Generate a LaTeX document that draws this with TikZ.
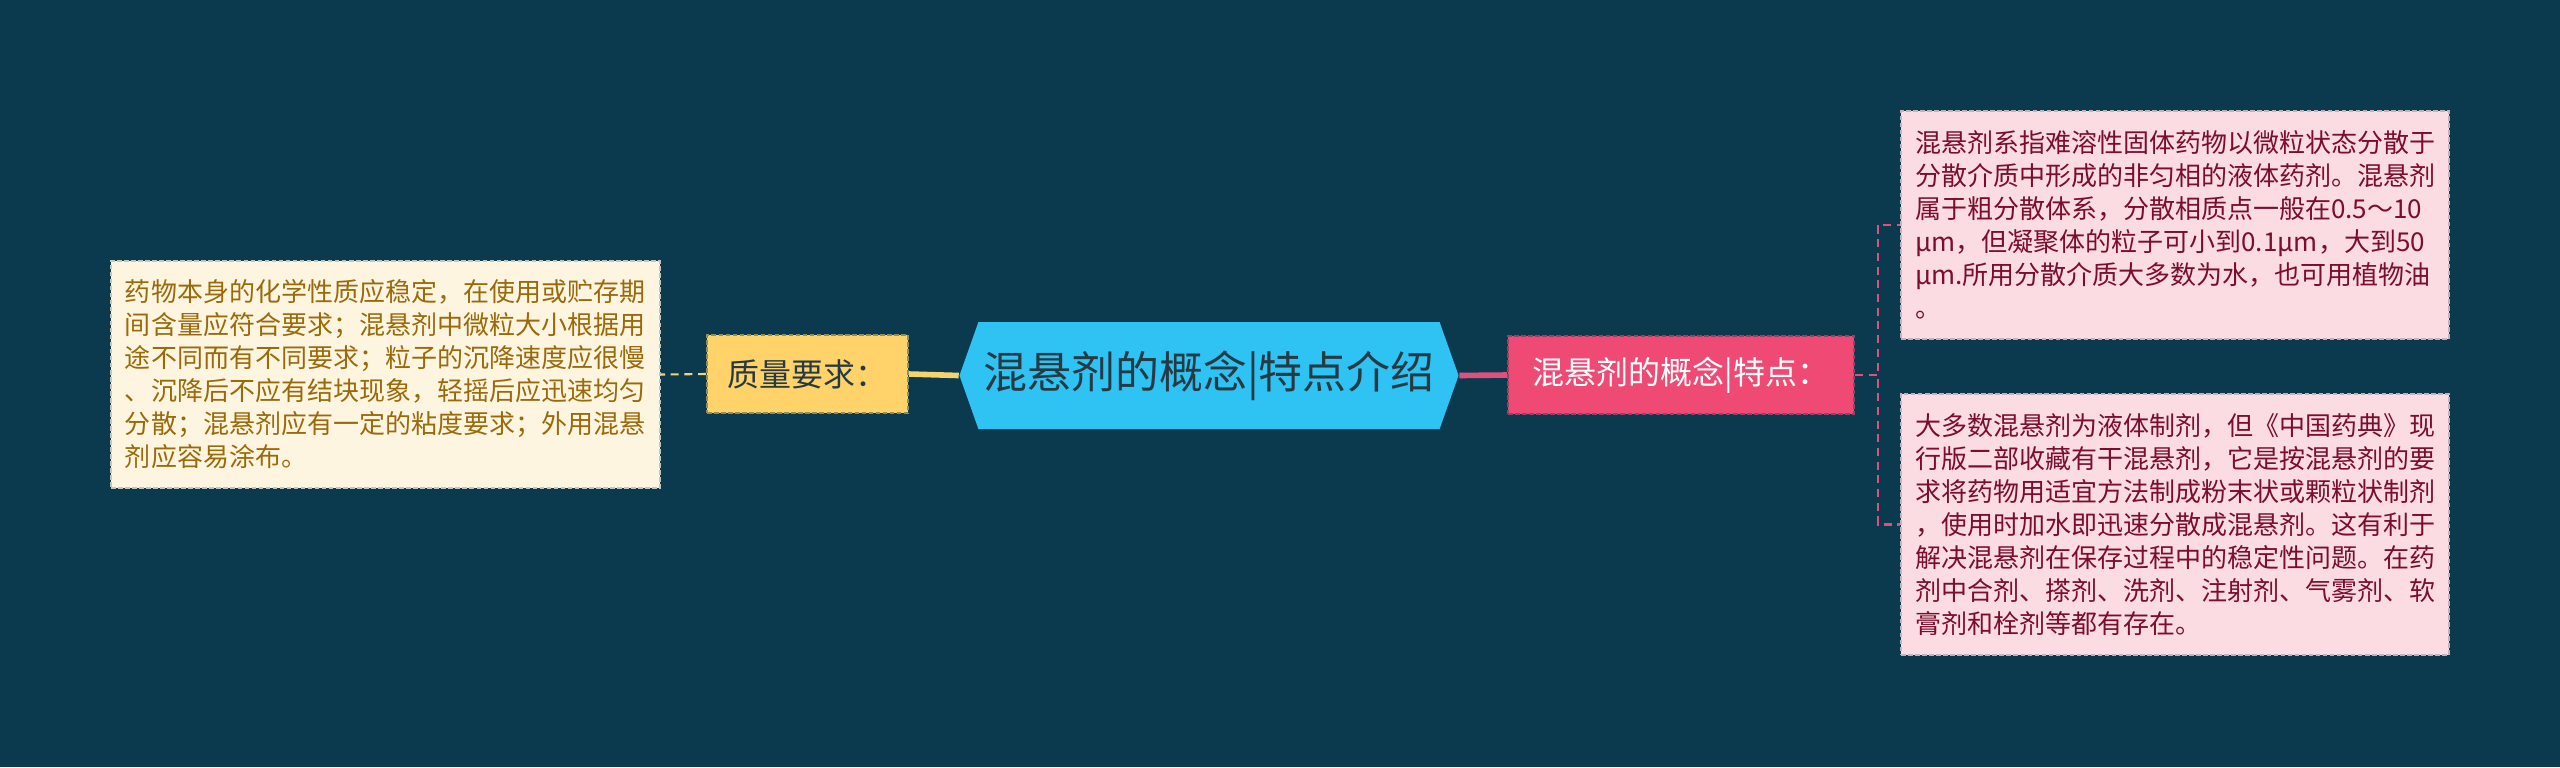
\documentclass[tikz,border=0pt]{standalone}
\usepackage{fontspec}
\setmainfont{Noto Sans CJK SC}
\usepackage{tikz}
\usetikzlibrary{shapes.symbols,positioning}

\definecolor{bgblue}{HTML}{0B3A4F}
\definecolor{topicblue}{HTML}{2FC3F3}
\definecolor{topicink}{HTML}{263A44}
\definecolor{tagyellow}{HTML}{FFD36A}
\definecolor{lineyellow}{HTML}{F4D46E}
\definecolor{creamfill}{HTML}{FEF5E1}
\definecolor{creamink}{HTML}{9A6A0A}
\definecolor{tagpink}{HTML}{EE4A73}
\definecolor{linepink}{HTML}{E0507C}
\definecolor{notepink}{HTML}{FCDCE3}
\definecolor{notepinkink}{HTML}{7A0E2C}

\begin{document}
\begin{tikzpicture}
			[
				topic/.style={signal, signal to=east and west, signal pointer angle=141,
					fill=topicblue, text=topicink, inner xsep=0.05cm, inner ysep=0pt,
					minimum width=4.83cm, minimum height=1.07cm,
					font=\fontsize{12.5}{15}\selectfont},
				tag/.style={draw, line width=0.5pt, dash pattern=on 1.3pt off 0.7pt,
					inner sep=0pt, minimum height=0.78cm,
					font=\fontsize{9.1}{11}\selectfont},
				note/.style={draw, line width=0.5pt, dash pattern=on 1.3pt off 0.7pt,
					align=left, inner xsep=0.14cm, inner ysep=0pt,
					font=\fontsize{7.4}{9.39}\selectfont},
				trunk/.style={line width=1.6pt},
				twig/.style={line width=0.6pt, dash pattern=on 2.3pt off 1.6pt}
			]

			% background
			\fill[bgblue] (0,0) rectangle (25.6,-7.67);
			\useasboundingbox (0,0) rectangle (25.6,-7.67);

			% central topic and tags
			\node[topic] (topic) at ( 12.09, -3.755 ) {混悬剂的概念|特点介绍};
			\node[tag,fill=tagyellow,draw=tagyellow!55!bgblue,text=topicink,minimum width=2.01cm]
				(quality) at (  8.075, -3.74 ) {质量要求：};
			\node[tag,fill=tagpink,draw=tagpink!60!bgblue,text=white,minimum width=3.46cm]
				(concept) at ( 16.81, -3.75 ) {混悬剂的概念|特点：};

			% notes
			\node[note,fill=creamfill,draw=creamfill!75!bgblue,text=creamink,
				text width=5.21cm,minimum height=2.27cm] (reqs) at (  3.855, -3.745 )
				{药物本身的化学性质应稳定，在使用或贮存期\\
				 间含量应符合要求；混悬剂中微粒大小根据用\\
				 途不同而有不同要求；粒子的沉降速度应很慢\\
				 、沉降后不应有结块现象，轻摇后应迅速均匀\\
				 分散；混悬剂应有一定的粘度要求；外用混悬\\
				 剂应容易涂布。};
			\node[note,fill=notepink,draw=notepink!75!bgblue,text=notepinkink,
				text width=5.2cm,minimum height=2.28cm] (defn) at ( 21.75, -2.25 )
				{混悬剂系指难溶性固体药物以微粒状态分散于\\
				 分散介质中形成的非匀相的液体药剂。混悬剂\\
				 属于粗分散体系，分散相质点一般在0.5～10\\
				 μm，但凝聚体的粒子可小到0.1μm，大到50\\
				 μm.所用分散介质大多数为水，也可用植物油\\
				 。};
			\node[note,fill=notepink,draw=notepink!75!bgblue,text=notepinkink,
				text width=5.2cm,minimum height=2.61cm] (forms) at ( 21.75, -5.245 )
				{大多数混悬剂为液体制剂，但《中国药典》现\\
				 行版二部收藏有干混悬剂，它是按混悬剂的要\\
				 求将药物用适宜方法制成粉末状或颗粒状制剂\\
				 ，使用时加水即迅速分散成混悬剂。这有利于\\
				 解决混悬剂在保存过程中的稳定性问题。在药\\
				 剂中合剂、搽剂、洗剂、注射剂、气雾剂、软\\
				 膏剂和栓剂等都有存在。};

			% branches
			\draw[trunk,lineyellow] (topic.west) -- (quality.east);
			\draw[twig,lineyellow] (quality.west) -- (reqs.east);
			\draw[trunk,linepink] (topic.east) -- (concept.west);
			\foreach \leaf in {defn,forms}
			\draw[twig,linepink] (concept.east) -- ++(0.23,0) |- (\leaf.west);

		\end{tikzpicture}
\end{document}
